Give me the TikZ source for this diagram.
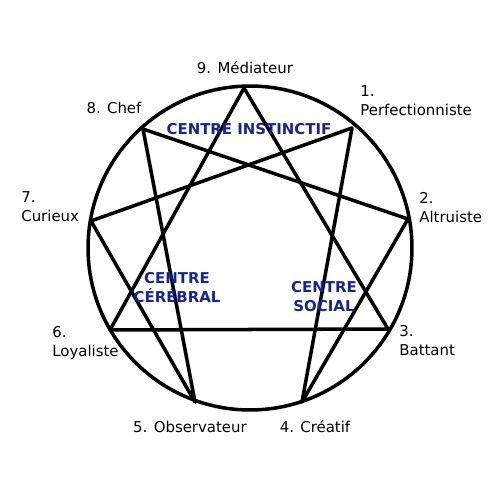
\documentclass[tikz,border=0pt]{standalone}
\usepackage{fontspec}
\setmainfont{DejaVu Sans}
\definecolor{centreblue}{RGB}{22,36,150}
\begin{document}
\begin{tikzpicture}[x=0.02cm,y=-0.02cm,
  lab/.style={inner sep=0pt,font=\fontsize{8.5}{10.8}\selectfont,align=left},
  ctr/.style={inner sep=0pt,font=\fontsize{8.5}{10.8}\selectfont\bfseries,text=centreblue,align=center},
  edge/.style={line width=2pt,line join=round,line cap=round}]
\useasboundingbox (0,0) rectangle (500,500);
\fill[white] (0,0) rectangle (500,500);
\coordinate (c) at (250,248);
\draw[edge] (c) circle[radius=3.24cm];
\coordinate (p9) at (244,88);
\coordinate (p1) at (352,128);
\coordinate (p2) at (408,219);
\coordinate (p3) at (388,329);
\coordinate (p4) at (302,402);
\coordinate (p5) at (195,402);
\coordinate (p6) at (110,330);
\coordinate (p7) at (91,221);
\coordinate (p8) at (143,129);
\draw[edge] (p9) -- (p3) -- (p6) -- cycle;
\draw[edge] (p1) -- (p4) -- (p2) -- (p8) -- (p5) -- (p7) -- cycle;
\node[lab] (l9) at (245,68) {9. Médiateur};
\node[lab] (l8) at (114,108) {8. Chef};
\node[lab,anchor=west] (l1) at (360,101) {1.\\Perfectionniste};
\node[lab,anchor=west] (l2) at (419,208) {2.\\Altruiste};
\node[lab,anchor=west] (l3) at (399,341) {3.\\Battant};
\node[lab,anchor=west] (l7) at (21,207) {7.\\Curieux};
\node[lab,anchor=west] (l6) at (52,343) {6.\\Loyaliste};
\node[lab] (l5) at (190,427) {5. Observateur};
\node[lab] (l4) at (315,427) {4. Créatif};
\node[ctr] (ci) at (249,129) {CENTRE INSTINCTIF};
\node[ctr] (cc) at (177,288) {CENTRE\\CÉRÉBRAL};
\node[ctr] (cs) at (324,297) {CENTRE\\SOCIAL};
\end{tikzpicture}
\end{document}
